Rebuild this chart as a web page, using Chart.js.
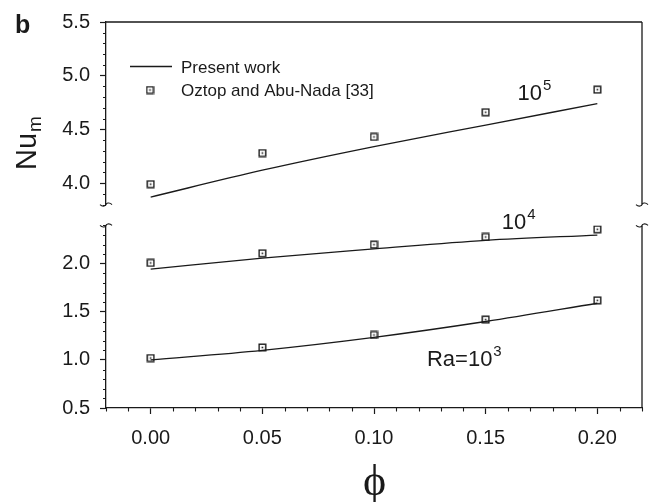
<!DOCTYPE html>
<html>
<head>
<meta charset="utf-8">
<script src="https://cdn.jsdelivr.net/npm/chart.js@4/dist/chart.umd.min.js"></script>
<style>
  html, body { margin: 0; padding: 0; background: #fff; }
  canvas { display: block; }
</style>
</head>
<body>
<canvas id="chart" width="654" height="502"></canvas>
<script>
// Volume fraction of nanoparticles
const phi = [0.00, 0.05, 0.10, 0.15, 0.20];

// Mean Nusselt number, present work
const presentRa3 = [1.00, 1.10, 1.235, 1.40, 1.59];
const presentRa4 = [1.945, 2.06, 2.155, 2.245, 2.30];
const presentRa5 = [3.87, 4.12, 4.34, 4.54, 4.74];

// Mean Nusselt number, Oztop and Abu-Nada [33]
const oztopRa3 = [1.02, 1.13, 1.26, 1.42, 1.62];
const oztopRa4 = [2.01, 2.11, 2.20, 2.28, 2.36];
const oztopRa5 = [3.99, 4.28, 4.43, 4.66, 4.87];

// Labelled ticks
const xTickLabels = ['0.00', '0.05', '0.10', '0.15', '0.20'];
const yLowTickLabels = ['0.5', '1.0', '1.5', '2.0'];
const yHighTickLabels = ['4.0', '4.5', '5.0', '5.5'];

const INK = '#1a1a1a';
const SANS = '"Liberation Sans", Arial, Helvetica, sans-serif';

function labelFor(list, v) {
  const hit = list.find(l => Math.abs(parseFloat(l) - v) < 1e-6);
  return hit === undefined ? '' : hit;
}
function pts(ys) {
  return phi.map((x, i) => ({ x: x, y: ys[i] }));
}

// Open square with a centre dot
function makeMarker() {
  const c = document.createElement('canvas');
  c.width = 9; c.height = 9;
  const g = c.getContext('2d');
  g.strokeStyle = INK;
  g.lineWidth = 1.4;
  g.strokeRect(1.2, 1.2, 6.6, 6.6);
  g.fillStyle = INK;
  g.fillRect(3.7, 3.7, 1.6, 1.6);
  return c;
}
const marker = makeMarker();

function lineSet(ys, axis) {
  return {
    label: 'Present work', data: pts(ys), yAxisID: axis,
    borderColor: INK, borderWidth: 1.3, pointRadius: 0, fill: false,
    tension: 0.2, cubicInterpolationMode: 'monotone'
  };
}
function markSet(ys, axis) {
  return {
    label: 'Oztop and Abu-Nada [33]', data: pts(ys), yAxisID: axis,
    showLine: false, pointStyle: marker, pointRadius: 4.5,
    borderColor: INK, backgroundColor: INK
  };
}

function yScale(min, max, labels, weight) {
  return {
    type: 'linear', position: 'left', stack: 'nu', stackWeight: weight,
    min: min, max: max,
    ticks: {
      stepSize: 0.1, maxTicksLimit: 200, autoSkip: false,
      color: INK, padding: 10, font: { family: SANS, size: 20 },
      callback: v => labelFor(labels, v)
    },
    grid: {
      drawOnChartArea: false, tickLength: 6, tickWidth: 1.2,
      tickColor: ctx => labelFor(labels, ctx.tick.value) ? INK : 'rgba(0,0,0,0)'
    },
    border: { color: INK, width: 1.3 },
    afterFit: s => { s.width = 106; }
  };
}

// Minor ticks, frame, axis breaks, legend and text annotations
const decor = {
  id: 'decor',
  afterDraw(chart) {
    const ctx = chart.ctx;
    const a = chart.chartArea;
    const sx = chart.scales.x, lo = chart.scales.yLow, hi = chart.scales.yHigh;
    ctx.save();
    ctx.strokeStyle = INK;
    ctx.fillStyle = INK;

    // minor ticks
    ctx.lineWidth = 1.1;
    ctx.beginPath();
    sx.ticks.forEach(t => {
      if (labelFor(xTickLabels, t.value)) return;
      const px = Math.round(sx.getPixelForValue(t.value)) + 0.5;
      ctx.moveTo(px, a.bottom); ctx.lineTo(px, a.bottom + 3.5);
    });
    [[lo, yLowTickLabels], [hi, yHighTickLabels]].forEach(([s, labels]) => {
      s.ticks.forEach(t => {
        if (labelFor(labels, t.value)) return;
        const py = Math.round(s.getPixelForValue(t.value)) + 0.5;
        ctx.moveTo(a.left - 3, py); ctx.lineTo(a.left, py);
      });
    });
    ctx.stroke();

    // frame: top edge and broken right edge
    ctx.lineWidth = 1.3;
    ctx.beginPath();
    ctx.moveTo(a.left, a.top); ctx.lineTo(a.right, a.top);
    ctx.moveTo(a.right, hi.top); ctx.lineTo(a.right, hi.bottom);
    ctx.moveTo(a.right, lo.top); ctx.lineTo(a.right, lo.bottom);
    ctx.stroke();

    // break marks
    ctx.lineWidth = 1.1;
    function squiggle(x, y) {
      ctx.beginPath();
      ctx.moveTo(x - 6, y);
      ctx.bezierCurveTo(x - 3, y + 3, x + 0, y + 1, x, y);
      ctx.bezierCurveTo(x + 0, y - 1, x + 3, y - 3, x + 6, y);
      ctx.stroke();
    }
    [a.left, a.right].forEach(x => {
      squiggle(x, hi.bottom);
      squiggle(x, lo.top);
    });

    // legend
    ctx.lineWidth = 1.3;
    ctx.beginPath();
    ctx.moveTo(130, 66.5); ctx.lineTo(172, 66.5);
    ctx.stroke();
    ctx.drawImage(marker, 150 - 4.5, 90 - 4.5);
    ctx.font = '17px ' + SANS;
    ctx.textAlign = 'left';
    ctx.textBaseline = 'alphabetic';
    ctx.fillText(chart.data.datasets[0].label, 181, 72.5);
    ctx.fillText(chart.data.datasets[3].label, 181, 95.5);

    // Rayleigh number labels
    function power(scale, xv, yv, base, exp) {
      const px = sx.getPixelForValue(xv);
      const py = scale.getPixelForValue(yv);
      ctx.font = '22px ' + SANS;
      ctx.fillText(base, px, py);
      const w = ctx.measureText(base).width;
      ctx.font = '15px ' + SANS;
      ctx.fillText(exp, px + w + 1, py - 10);
    }
    power(hi, 0.1643, 4.77, '10', '5');
    power(lo, 0.1572, 2.362, '10', '4');
    power(lo, 0.1237, 0.938, 'Ra=10', '3');

    // y-axis title Nu_m
    ctx.save();
    ctx.translate(36, 170);
    ctx.rotate(-Math.PI / 2);
    ctx.font = '29px ' + SANS;
    ctx.fillText('Nu', 0, 0);
    const nw = ctx.measureText('Nu').width;
    ctx.font = '19px ' + SANS;
    ctx.fillText('m', nw + 1, 5);
    ctx.restore();

    // x-axis title
    ctx.font = '44px "Liberation Serif", "DejaVu Serif", serif';
    ctx.textAlign = 'center';
    ctx.fillText('\u03D5', sx.getPixelForValue(0.10) + 0.5, 495);

    // panel letter
    ctx.textAlign = 'left';
    ctx.font = 'bold 25px ' + SANS;
    ctx.fillText('b', 15, 33);

    ctx.restore();
  }
};

new Chart(document.getElementById('chart'), {
  type: 'line',
  data: {
    datasets: [
      lineSet(presentRa5, 'yHigh'),
      lineSet(presentRa4, 'yLow'),
      lineSet(presentRa3, 'yLow'),
      markSet(oztopRa5, 'yHigh'),
      markSet(oztopRa4, 'yLow'),
      markSet(oztopRa3, 'yLow')
    ]
  },
  options: {
    responsive: false,
    devicePixelRatio: 1,
    animation: false,
    layout: { padding: { left: 0, top: 19, right: 6, bottom: 0 } },
    plugins: { legend: { display: false }, tooltip: { enabled: false } },
    scales: {
      x: {
        type: 'linear', position: 'bottom', min: -0.02, max: 0.22,
        ticks: {
          stepSize: 0.01, maxTicksLimit: 200, autoSkip: false, maxRotation: 0,
          color: INK, padding: 12, font: { family: SANS, size: 20 },
          callback: v => labelFor(xTickLabels, v)
        },
        grid: {
          drawOnChartArea: false, tickLength: 6, tickWidth: 1.2,
          tickColor: ctx => labelFor(xTickLabels, ctx.tick.value) ? INK : 'rgba(0,0,0,0)'
        },
        border: { color: INK, width: 1.3 },
        afterFit: s => { s.height = 94; }
      },
      yLow: yScale(0.5, 2.4, yLowTickLabels, 184),
      yGap: {
        type: 'linear', position: 'left', stack: 'nu', stackWeight: 21,
        min: 0, max: 1,
        ticks: { display: false },
        grid: { display: false },
        border: { display: false },
        afterFit: s => { s.width = 106; }
      },
      yHigh: yScale(3.8, 5.5, yHighTickLabels, 184)
    }
  },
  plugins: [decor]
});
</script>
</body>
</html>
